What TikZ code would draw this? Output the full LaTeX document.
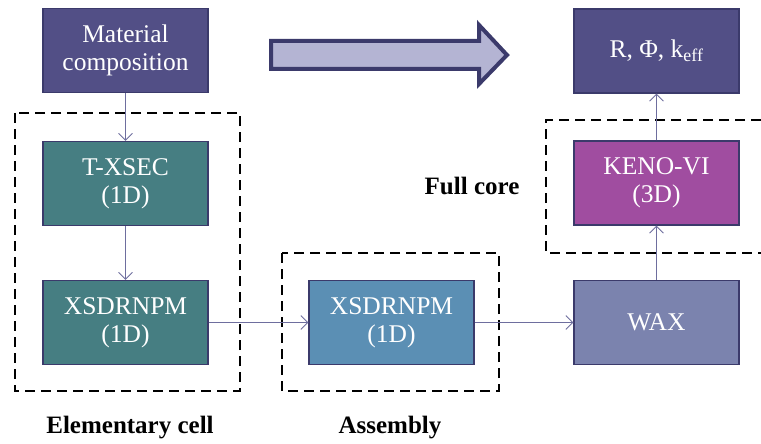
\documentclass[tikz,border=0pt]{standalone}
\usepackage{fontspec}
\setmainfont{Liberation Serif}
\usepackage{xcolor}
\usetikzlibrary{positioning,arrows.meta}

\definecolor{matcol}{HTML}{524F86}
\definecolor{cellcol}{HTML}{467E82}
\definecolor{asmcol}{HTML}{5B8FB4}
\definecolor{waxcol}{HTML}{7B83AE}
\definecolor{kenocol}{HTML}{A04DA0}
\definecolor{edgecol}{HTML}{3B3A6B}
\definecolor{linkcol}{HTML}{6E6E9E}
\definecolor{bigfill}{HTML}{B4B4D3}

\tikzset{
    block/.style={draw=edgecol, line width=1.3pt, minimum width=165pt, minimum height=84pt,
        inner sep=0pt, text=white, align=center, font=\fontsize{25.5}{28}\selectfont},
    link/.style={->, draw=linkcol, line width=0.8pt},
    group/.style={draw=black, line width=2.6pt, dash pattern=on 10pt off 6pt},
    tag/.style={font=\bfseries\fontsize{25}{28}\selectfont}
}

\begin{document}
\begin{tikzpicture}[x=1pt, y=-1pt, >={Straight Barb[length=7pt,width=14pt]}]

    \useasboundingbox (0,0) rectangle (761,444);

    % Nodes
    \node (mat) [block, fill=matcol] at (125.5,50.5) {Material\\composition};
    \node (txsec) [block, fill=cellcol] at (125.5,183.5) {T-XSEC\\(1D)};
    \node (xcell) [block, fill=cellcol] at (125.5,322.5) {XSDRNPM\\(1D)};
    \node (xasm) [block, fill=asmcol] at (391.5,322.5) {XSDRNPM\\(1D)};
    \node (wax) [block, fill=waxcol] at (656.5,322.5) {WAX};
    \node (keno) [block, fill=kenocol] at (656.5,183) {KENO-VI\\(3D)};
    \node (res) [block, fill=matcol] at (656.5,51) {R, Φ, k\textsubscript{eff}};

    % Dashed groups and their labels
    \draw[group] (15,113) rectangle (240,391);
    \draw[group] (282,253) rectangle (499,391);
    \draw[group] (761,120) -| (546,253) -- (761,253);
    \node (cell) [tag] at (130,428) {Elementary cell};
    \node (assy) [tag] at (390,428) {Assembly};
    \node (core) [tag] at (472,186) {Full core};

    % Big flow arrow
    \draw[draw=edgecol, fill=bigfill, line width=4pt, line join=miter]
        (271,41) -- (479,41) -- (479,25) -- (507,55) -- (479,84) -- (479,69) -- (271,69) -- cycle;

    % Arrows
    \draw[link] (mat) -- (txsec);
    \draw[link] (txsec) -- (xcell);
    \draw[link] (xcell) -- (xasm);
    \draw[link] (xasm) -- (wax);
    \draw[link] (wax) -- (keno);
    \draw[link] (keno) -- (res);

\end{tikzpicture}
\end{document}
